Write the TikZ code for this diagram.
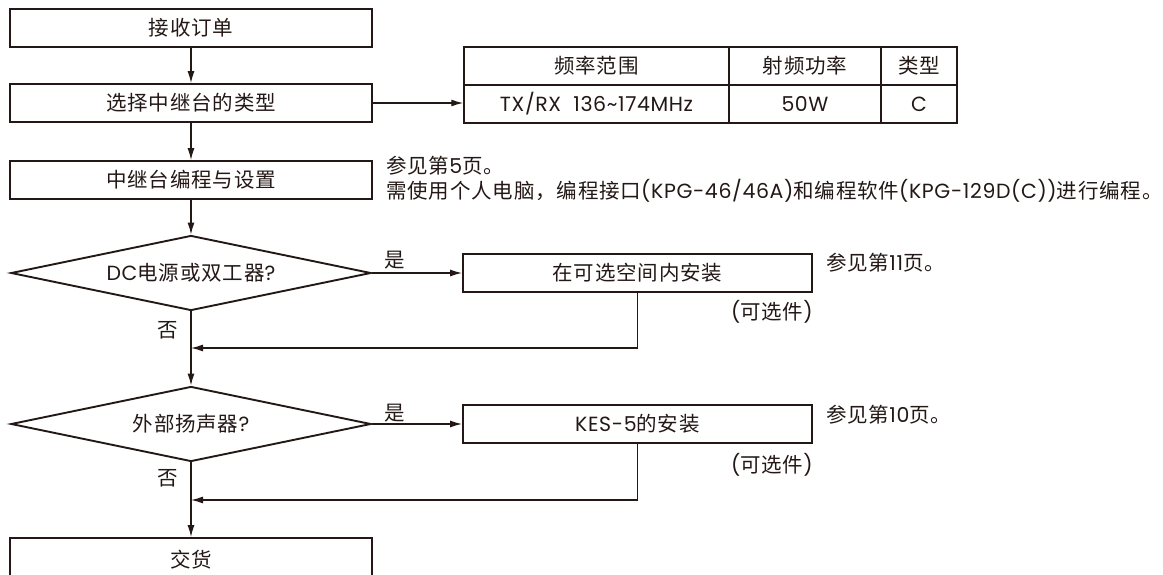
\documentclass[tikz,border=0pt]{standalone}
\usepackage{fontspec}
\setmainfont[LetterSpace=4]{Noto Sans CJK SC}
\newfontfamily\latfont[LetterSpace=3]{Poppins}
\newcommand\latn[1]{{\latfont #1}}
\usetikzlibrary{shapes.geometric,arrows.meta}
\definecolor{ink}{RGB}{35,24,21}
\begin{document}
\begin{tikzpicture}[x=1pt,y=-1pt,
  font=\fontsize{20.5}{25}\selectfont,
  box/.style={draw=ink, line width=1.8pt, minimum width=362pt, minimum height=38pt, inner sep=0pt, text=ink},
  obox/.style={box, minimum width=349pt},
  dec/.style={diamond, draw=ink, line width=1.9pt, minimum width=360pt, minimum height=75pt, aspect=4.8, inner sep=0pt, text=ink},
  cell/.style={draw=ink, line width=1.5pt, minimum height=38pt, inner sep=0pt, text=ink},
  conn/.style={draw=ink, line width=1.3pt, -{Latex[length=12pt,width=7pt]}},
  lbl/.style={text=ink, inner sep=0pt}]
\useasboundingbox (0,0) rectangle (1163,574);
\clip (0,0) rectangle (1163,574);
% main column
\node[box] (b1) at (191,28) {接收订单};
\node[box] (b2) at (191,103) {选择中继台的类型};
\node[box] (b3) at (191,180) {中继台编程与设置};
\node[dec] (d1) at (191,273) {\latn{DC}电源或双工器\latn{?}};
\node[dec] (d2) at (191,424) {外部扬声器\latn{?}};
\node[box, minimum height=44pt] (b4) at (191,560) {交货};
% option boxes
\node[obox] (o1) at (637.5,273) {在可选空间内安装};
\node[obox] (o2) at (637.5,424) {\latn{KES-5}的安装};
% table
\node[cell, minimum width=265pt] (c11) at (596.5,66) {频率范围};
\node[cell, minimum width=152pt] (c12) at (805,66) {射频功率};
\node[cell, minimum width=76pt] (c13) at (919,66) {类型};
\node[cell, minimum width=265pt] (c21) at (596.5,104) {\latn{TX/RX\ \ 136\textasciitilde174MHz}};
\node[cell, minimum width=152pt] (c22) at (805,104) {\latn{50W}};
\node[cell, minimum width=76pt] (c23) at (919,104) {\latn{C}};
% notes
\node[lbl, anchor=west] (n1) at (386,166) {参见第\latn{5}页。};
\node[lbl, anchor=west] (n2) at (386,191) {需使用个人电脑，编程接口\latn{(KPG-46/46A)}和编程软件\latn{(KPG-129D(C))}进行编程。};
\node[lbl, anchor=west] (n3) at (826,263) {参见第\latn{11}页。};
\node[lbl, anchor=east] (n4) at (813,312) {\latn{(}可选件\latn{)}};
\node[lbl, anchor=west] (n5) at (826,415) {参见第\latn{10}页。};
\node[lbl, anchor=east] (n6) at (813,465) {\latn{(}可选件\latn{)}};
\node[lbl] (y1) at (395,260) {是};
\node[lbl] (y2) at (395,413) {是};
\node[lbl] (x1) at (168,330) {否};
\node[lbl] (x2) at (168,478) {否};
% connectors
\coordinate (m1) at (191,348);
\coordinate (m2) at (191,500);
\draw[conn] (b1) -- (b2);
\draw[conn] (b2) -- (b3);
\draw[conn] (b3) -- (d1);
\draw[conn] (d1) -- (d2);
\draw[conn] (d2) -- (b4);
\draw[conn] (b2.east) -- (b2.east -| c21.west);
\draw[conn] (d1.east) -- (o1.west);
\draw[conn] (d2.east) -- (o2.west);
\draw[conn] (o1.south) |- (m1);
\draw[conn] (o2.south) |- (m2);
\end{tikzpicture}
\end{document}
